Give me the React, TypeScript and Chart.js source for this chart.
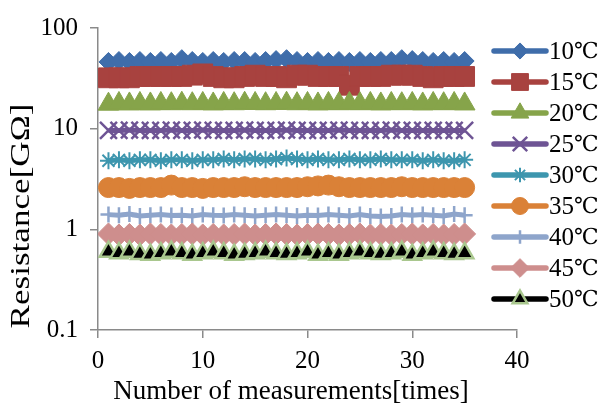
import React, { useEffect, useRef } from "react";
import { Chart, registerables } from "chart.js";
Chart.register(...registerables);

const measurements = [1, 2, 3, 4, 5, 6, 7, 8, 9, 10, 11, 12, 13, 14, 15, 16, 17, 18, 19, 20, 21, 22, 23, 24, 25, 26, 27, 28, 29, 30, 31, 32, 33, 34, 35];
const tempValues = ["10", "15", "20", "25", "30", "35", "40", "45", "50"];
const tempUnit = "℃";
const r10 = [46, 47, 46, 47, 46, 47, 46, 49, 47, 46, 47, 46, 47, 47, 46, 47, 48, 49, 47, 46, 47, 46, 47, 46, 47, 46, 47, 47, 49, 48, 47, 46, 47, 46, 47];
const r15 = [32, 32, 32, 33, 33, 33, 33, 33, 34, 35, 33, 32, 32, 33, 34, 33, 33, 32, 34, 34, 33, 33, 33, 27, 33, 33, 33, 34, 34, 34, 33, 32, 33, 33, 33];
const r20 = [17.5, 17.8, 17.6, 17.8, 17.6, 17.8, 17.7, 17.9, 17.7, 17.8, 17.6, 17.8, 17.7, 17.9, 17.8, 17.7, 17.8, 17.9, 17.7, 17.8, 17.6, 17.8, 17.7, 17.8, 17.7, 17.8, 17.6, 17.8, 17.7, 17.8, 17.6, 17.8, 17.7, 17.8, 17.6];
const r25 = [9.6, 9.6, 9.7, 9.6, 9.6, 9.6, 9.7, 9.6, 9.6, 9.7, 9.6, 9.6, 9.6, 9.7, 9.6, 9.6, 9.6, 9.7, 9.6, 9.6, 9.6, 9.6, 9.7, 9.6, 9.6, 9.6, 9.6, 9.7, 9.6, 9.6, 9.6, 9.6, 9.6, 9.6, 9.6];
const r30 = [4.8, 4.9, 4.8, 4.9, 4.9, 4.8, 4.9, 4.9, 4.8, 4.9, 4.9, 5.0, 4.9, 5.0, 5.0, 4.9, 5.0, 5.1, 5.0, 4.9, 5.0, 4.9, 4.9, 5.0, 4.9, 4.9, 5.0, 4.9, 4.9, 4.9, 4.8, 4.9, 4.8, 4.8, 4.9];
const r35 = [2.6, 2.6, 2.55, 2.6, 2.6, 2.6, 2.75, 2.6, 2.6, 2.55, 2.6, 2.6, 2.6, 2.65, 2.6, 2.6, 2.6, 2.6, 2.6, 2.65, 2.7, 2.75, 2.65, 2.6, 2.6, 2.6, 2.6, 2.6, 2.65, 2.6, 2.6, 2.6, 2.6, 2.6, 2.6];
const r40 = [1.4, 1.38, 1.42, 1.36, 1.38, 1.4, 1.37, 1.38, 1.36, 1.4, 1.38, 1.37, 1.4, 1.38, 1.36, 1.38, 1.4, 1.38, 1.36, 1.38, 1.37, 1.4, 1.38, 1.36, 1.4, 1.36, 1.34, 1.36, 1.4, 1.38, 1.4, 1.38, 1.36, 1.42, 1.38];
const r45 = [0.9, 0.88, 0.89, 0.88, 0.9, 0.89, 0.88, 0.89, 0.9, 0.88, 0.89, 0.88, 0.89, 0.9, 0.88, 0.89, 0.9, 0.89, 0.88, 0.89, 0.9, 0.89, 0.88, 0.89, 0.9, 0.88, 0.89, 0.88, 0.89, 0.9, 0.88, 0.89, 0.88, 0.89, 0.9];
const r50 = [0.6, 0.58, 0.6, 0.57, 0.56, 0.58, 0.6, 0.58, 0.56, 0.58, 0.6, 0.58, 0.56, 0.57, 0.58, 0.6, 0.58, 0.57, 0.58, 0.6, 0.56, 0.58, 0.56, 0.58, 0.6, 0.58, 0.57, 0.58, 0.6, 0.56, 0.58, 0.6, 0.58, 0.57, 0.58];
const seriesValues = [r10, r15, r20, r25, r30, r35, r40, r45, r50];
const yTicks = [0.1, 1, 10, 100];
const xTicks = [0, 10, 20, 30, 40];
const xTitle = "Number of measurements[times]";
const yTitle = "Resistance[GΩ]";

const lineColors = ["#3F6DAA", "#A8423F", "#86A44A", "#6E5494", "#3D96AE", "#DA8137", "#8EA5CB", "#CE8E8D", "#000000"];
const markerFills = ["#3F6DAA", "#A8423F", "#86A44A", "#6E5494", "#3D96AE", "#DA8137", "#8EA5CB", "#CE8E8D", "#000000"];
const markerBorders = ["#3F6DAA", "#A8423F", "#86A44A", "#6E5494", "#3D96AE", "#DA8137", "#8EA5CB", "#CE8E8D", "#A9C78E"];
const pointStyles = ["rectRot", "rect", "triangle", "crossRot", "star", "circle", "cross", "rectRot", "triangle"];
const pointRadii = [9.5, 14, 12, 12, 8.5, 10, 8, 11, 10];
const pointBorderWidths = [1, 1, 1, 2.5, 2, 1, 2.5, 1, 2.5];

const FONT = "'Liberation Serif', 'Times New Roman', serif";
const UNIT_FONT = "'DejaVu Serif', 'Liberation Serif', serif";

function drawMarker(ctx: CanvasRenderingContext2D, style: string, x: number, y: number, r: number, fill: string, stroke: string, bw: number) {
  ctx.save();
  ctx.fillStyle = fill;
  ctx.strokeStyle = stroke;
  ctx.lineWidth = bw;
  ctx.beginPath();
  const s = Math.SQRT1_2 * r;
  if (style === "circle") {
    ctx.arc(x, y, r, 0, Math.PI * 2);
    ctx.fill();
    ctx.stroke();
  } else if (style === "rect") {
    ctx.rect(x - s, y - s, 2 * s, 2 * s);
    ctx.fill();
    ctx.stroke();
  } else if (style === "rectRot") {
    ctx.moveTo(x, y - r);
    ctx.lineTo(x + r, y);
    ctx.lineTo(x, y + r);
    ctx.lineTo(x - r, y);
    ctx.closePath();
    ctx.fill();
    ctx.stroke();
  } else if (style === "triangle") {
    let a = 0;
    ctx.moveTo(x + Math.sin(a) * r, y - Math.cos(a) * r);
    a += (2 * Math.PI) / 3;
    ctx.lineTo(x + Math.sin(a) * r, y - Math.cos(a) * r);
    a += (2 * Math.PI) / 3;
    ctx.lineTo(x + Math.sin(a) * r, y - Math.cos(a) * r);
    ctx.closePath();
    ctx.fill();
    ctx.stroke();
  } else if (style === "crossRot") {
    ctx.moveTo(x - s, y - s);
    ctx.lineTo(x + s, y + s);
    ctx.moveTo(x - s, y + s);
    ctx.lineTo(x + s, y - s);
    ctx.stroke();
  } else if (style === "cross") {
    ctx.moveTo(x, y - r);
    ctx.lineTo(x, y + r);
    ctx.moveTo(x - r, y);
    ctx.lineTo(x + r, y);
    ctx.stroke();
  } else if (style === "star") {
    ctx.moveTo(x, y - r);
    ctx.lineTo(x, y + r);
    ctx.moveTo(x - r, y);
    ctx.lineTo(x + r, y);
    ctx.moveTo(x - s, y - s);
    ctx.lineTo(x + s, y + s);
    ctx.moveTo(x - s, y + s);
    ctx.lineTo(x + s, y - s);
    ctx.stroke();
  }
  ctx.restore();
}

const legendPlugin = {
  id: "customLegend",
  afterDraw(chart: any) {
    const ctx = chart.ctx as CanvasRenderingContext2D;
    const y0 = 51;
    const dy = 31;
    tempValues.forEach((t, i) => {
      const y = y0 + i * dy;
      ctx.save();
      ctx.strokeStyle = lineColors[i];
      ctx.lineWidth = 5.5;
      ctx.lineCap = "round";
      ctx.beginPath();
      ctx.moveTo(494, y);
      ctx.lineTo(546, y);
      ctx.stroke();
      ctx.restore();
      drawMarker(ctx, pointStyles[i], 520, y, pointRadii[i] * 0.85, markerFills[i], markerBorders[i], pointBorderWidths[i]);
      ctx.save();
      ctx.fillStyle = "#000";
      ctx.font = `25px ${FONT}`;
      ctx.textBaseline = "middle";
      ctx.textAlign = "left";
      ctx.fillText(t, 549, y + 1);
      const w = ctx.measureText(t).width;
      ctx.font = `22px ${UNIT_FONT}`;
      ctx.fillText(tempUnit, 549 + w, y + 1);
      ctx.restore();
    });
    // y-axis title
    ctx.save();
    ctx.fillStyle = "#000";
    ctx.font = `27px ${FONT}`;
    ctx.textAlign = "center";
    ctx.textBaseline = "middle";
    ctx.translate(22, 216);
    ctx.rotate(-Math.PI / 2);
    ctx.scale(1.3, 1);
    ctx.fillText(yTitle, 0, 0);
    ctx.restore();
    // x-axis title
    ctx.save();
    ctx.fillStyle = "#000";
    ctx.font = `27px ${FONT}`;
    ctx.textAlign = "center";
    ctx.textBaseline = "middle";
    ctx.fillText(xTitle, 291, 392);
    ctx.restore();
  },
};

export default function App() {
  const ref = useRef<HTMLCanvasElement | null>(null);
  useEffect(() => {
    document.body.style.margin = "0";
    const canvas = ref.current!;
    const datasets = tempValues.map((t, i) => ({
      label: t + tempUnit,
      data: measurements.map((m, j) => ({ x: m, y: seriesValues[i][j] })),
      borderColor: lineColors[i],
      backgroundColor: markerFills[i],
      borderWidth: 5,
      pointStyle: pointStyles[i],
      pointRadius: pointRadii[i],
      pointBackgroundColor: markerFills[i],
      pointBorderColor: markerBorders[i],
      pointBorderWidth: pointBorderWidths[i],
      tension: 0,
      order: tempValues.length - i,
    }));
    const chart = new Chart(canvas, {
      type: "line",
      data: { datasets },
      plugins: [legendPlugin],
      options: {
        animation: false,
        responsive: false,
        layout: { padding: { top: 28, right: 88, left: 0, bottom: 0 } },
        plugins: { legend: { display: false }, tooltip: { enabled: false } },
        scales: {
          x: {
            type: "linear",
            min: 0,
            max: 40,
            afterBuildTicks: (s: any) => {
              s.ticks = xTicks.map((v) => ({ value: v }));
            },
            afterFit: (s: any) => {
              s.height = 75;
            },
            grid: { drawOnChartArea: false, tickLength: 8, color: "#8a8a8a", lineWidth: 1.5 },
            border: { color: "#8a8a8a", width: 1.5 },
            ticks: { color: "#000", font: { family: FONT, size: 25 }, padding: 8, maxRotation: 0 },
          },
          y: {
            type: "logarithmic",
            min: 0.1,
            max: 100,
            afterBuildTicks: (s: any) => {
              s.ticks = yTicks.map((v) => ({ value: v }));
            },
            afterFit: (s: any) => {
              s.width = 98;
            },
            grid: { drawOnChartArea: false, tickLength: 8, color: "#8a8a8a", lineWidth: 1.5 },
            border: { color: "#8a8a8a", width: 1.5 },
            ticks: {
              color: "#000",
              font: { family: FONT, size: 25 },
              padding: 12,
              callback: (v: any) => String(v),
            },
          },
        },
      },
    });
    return () => chart.destroy();
  }, []);
  return (
    <div style={{ position: "absolute", left: 0, top: 0, width: 605, height: 405 }}>
      <canvas ref={ref} width={605} height={405} style={{ width: 605, height: 405 }} />
    </div>
  );
}
